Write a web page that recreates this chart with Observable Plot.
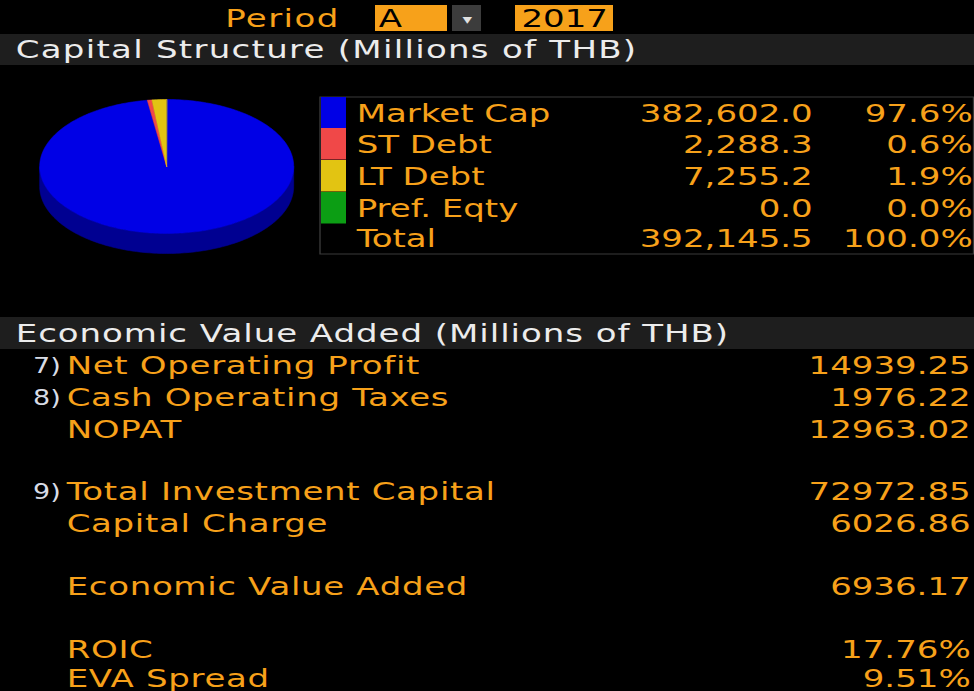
<!DOCTYPE html>
<html>
<head>
<meta charset="utf-8">
<script src="https://cdn.jsdelivr.net/npm/d3@7"></script>
<script src="https://cdn.jsdelivr.net/npm/@observablehq/plot@0.6"></script>
<style>
  html, body { margin: 0; padding: 0; background: #000; }
  #chart { width: 974px; height: 691px; overflow: hidden; background: #000; }
  #chart svg { transform-origin: 0 0; display: block; }
  .wide text { letter-spacing: 0.95px; }
  .wide2 text { letter-spacing: 0.72px; }
  .wider text { letter-spacing: 1.05px; }
  .mid text { letter-spacing: 0.5px; }
</style>
</head>
<body>
<div id="chart"></div>
<script>
// ---------- data ----------
const periodType = "A";
const periodYear = "2017";
const capTitle = "Capital Structure (Millions of THB)";
const capLabels = ["Market Cap", "ST Debt", "LT Debt", "Pref. Eqty"];
const capValues = [382602.0, 2288.3, 7255.2, 0.0];
const capPct = [97.6, 0.6, 1.9, 0.0];
const capColors = ["#0000e6", "#f04848", "#e2c412", "#0c9e14"];
const capTotalLabel = "Total";
const capTotal = 392145.5;
const capTotalPct = 100.0;

const evaTitle = "Economic Value Added (Millions of THB)";
const evaMarkers = ["7)", "8)", "", "9)", "", "", "", ""];
const evaLabels = ["Net Operating Profit", "Cash Operating Taxes", "NOPAT", "Total Investment Capital", "Capital Charge", "Economic Value Added", "ROIC", "EVA Spread"];
const evaValues = [14939.25, 1976.22, 12963.02, 72972.85, 6026.86, 6936.17, 17.76, 9.51];
const evaIsPct = [false, false, false, false, false, false, true, true];

// ---------- layout (reference pixels) ----------
const S = 1.36;            // horizontal glyph stretch of the terminal font
const W = 974, H = 691;
const orange = "#f7a11a";
const fs = 25;

const capRowY = [113, 144, 176, 208, 238];
const evaRowY = [365, 397, 429, 491, 523, 586, 649, 678];

// pie geometry
const cx = 166, cy = 166, rx = 127, ry = 67, depth = 20;
const pieGen = d3.pie().sort(null).startAngle(0).endAngle(2 * Math.PI);
const arcs = pieGen(capValues);
const pt = (a, dy = 0) => ({x: cx + rx * Math.sin(a), y: cy - ry * Math.cos(a) + dy});
function arcPoints(a0, a1, dy) {
  const n = Math.max(2, Math.ceil((a1 - a0) / 0.02));
  return d3.range(n + 1).map(i => pt(a0 + (a1 - a0) * i / n, dy));
}
const topPolys = [], sidePolys = [];
arcs.forEach((a, i) => {
  if (a.endAngle - a.startAngle <= 0) return;
  topPolys.push({color: capColors[i], pts: [{x: cx, y: cy}, ...arcPoints(a.startAngle, a.endAngle, 0)]});
  const s0 = Math.max(a.startAngle, Math.PI / 2), s1 = Math.min(a.endAngle, 3 * Math.PI / 2);
  if (s1 > s0) {
    const dark = d3.color(capColors[i]).darker(1.3).formatHex();
    sidePolys.push({color: dark, pts: [...arcPoints(s0, s1, 0), ...arcPoints(s0, s1, depth).reverse()]});
  }
});

// ---------- rows as tables ----------
const capRows = capLabels.map((l, i) => ({
  label: l, value: d3.format(",.1f")(capValues[i]), pct: d3.format(".1f")(capPct[i]) + "%",
  y: capRowY[i], color: capColors[i]
}));
capRows.push({label: capTotalLabel, value: d3.format(",.1f")(capTotal), pct: d3.format(".1f")(capTotalPct) + "%", y: capRowY[4], color: null});

const evaRows = evaLabels.map((l, i) => ({
  marker: evaMarkers[i], label: l,
  value: evaIsPct[i] ? d3.format(".2f")(evaValues[i]) + "%" : d3.format(".2f")(evaValues[i]),
  y: evaRowY[i]
}));

const bars = [
  {x1: 0, x2: W, y1: 34, y2: 65, fill: "#1e1e1e"},
  {x1: 0, x2: W, y1: 317, y2: 349, fill: "#1e1e1e"},
  {x1: 375, x2: 447, y1: 5, y2: 31, fill: orange},
  {x1: 452, x2: 481, y1: 5, y2: 31, fill: "#3c3c3c"},
  {x1: 515, x2: 613, y1: 5, y2: 31, fill: orange}
];
const swatches = capRows.filter(d => d.color).map(d => ({x1: 321, x2: 346, y1: d.y - 16, y2: d.y + 15.5, fill: d.color}));

const textBase = {fontFamily: "DejaVu Sans", fontSize: fs, lineAnchor: "middle"};

const marks = [
  Plot.rect(bars, {x1: "x1", x2: "x2", y1: "y1", y2: "y2", fill: "fill"}),
  // period selector
  Plot.text(["Period"], {...textBase, className: "wider", x: () => 339, y: () => 18, text: d => d, textAnchor: "end", fill: orange}),
  Plot.text([periodType], {...textBase, x: () => 378, y: () => 18, text: d => d, textAnchor: "start", fill: "#000"}),
  Plot.text(["▾"], {fontFamily: "DejaVu Sans", fontSize: 14, x: () => 466.5, y: () => 19, text: d => d, fill: "#e0e0e0"}),
  Plot.text([periodYear], {...textBase, x: () => 564, y: () => 18, text: d => d, textAnchor: "middle", fill: "#000"}),
  // section headers
  Plot.text([capTitle], {...textBase, className: "wide", x: () => 15, y: () => 49, text: d => d, textAnchor: "start", fill: "#ececec"}),
  Plot.text([evaTitle], {...textBase, className: "wide2", x: () => 15, y: () => 333, text: d => d, textAnchor: "start", fill: "#ececec"}),
  // pie
  ...sidePolys.map(p => Plot.line(p.pts, {x: "x", y: "y", fill: p.color, stroke: p.color, strokeWidth: 0.5, curve: "linear-closed"})),
  ...topPolys.map(p => Plot.line(p.pts, {x: "x", y: "y", fill: p.color, stroke: p.color, strokeWidth: 0.5, curve: "linear-closed"})),
  // legend table
  Plot.rect([{x1: 320, x2: 973.5, y1: 97, y2: 254}], {x1: "x1", x2: "x2", y1: "y1", y2: "y2", fill: "none", stroke: "#3a3a3a", strokeWidth: 1}),
  Plot.rect(swatches, {x1: "x1", x2: "x2", y1: "y1", y2: "y2", fill: "fill"}),
  Plot.text(capRows, {...textBase, x: () => 356, y: "y", text: "label", textAnchor: "start", fill: orange}),
  Plot.text(capRows, {...textBase, x: () => 812, y: "y", text: "value", textAnchor: "end", fill: orange}),
  Plot.text(capRows, {...textBase, x: () => 972, y: "y", text: "pct", textAnchor: "end", fill: orange}),
  // EVA table
  Plot.text(evaRows.filter(d => d.marker), {fontFamily: "DejaVu Sans Condensed", fontSize: 22, lineAnchor: "middle", x: () => 60, y: "y", text: "marker", textAnchor: "end", fill: "#d8dce6"}),
  Plot.text(evaRows, {...textBase, className: "mid", x: () => 66, y: "y", text: "label", textAnchor: "start", fill: orange}),
  Plot.text(evaRows, {...textBase, x: () => 970, y: "y", text: "value", textAnchor: "end", fill: orange})
];

const chart = Plot.plot({
  width: Math.round(W / S),
  height: H,
  margin: 0,
  style: {background: "#000", overflow: "visible"},
  x: {domain: [0, W], range: [0, W / S], axis: null},
  y: {domain: [0, H], range: [0, H], axis: null},
  marks
});
chart.style.transform = `scaleX(${S})`;
document.getElementById("chart").appendChild(chart);
</script>
</body>
</html>
